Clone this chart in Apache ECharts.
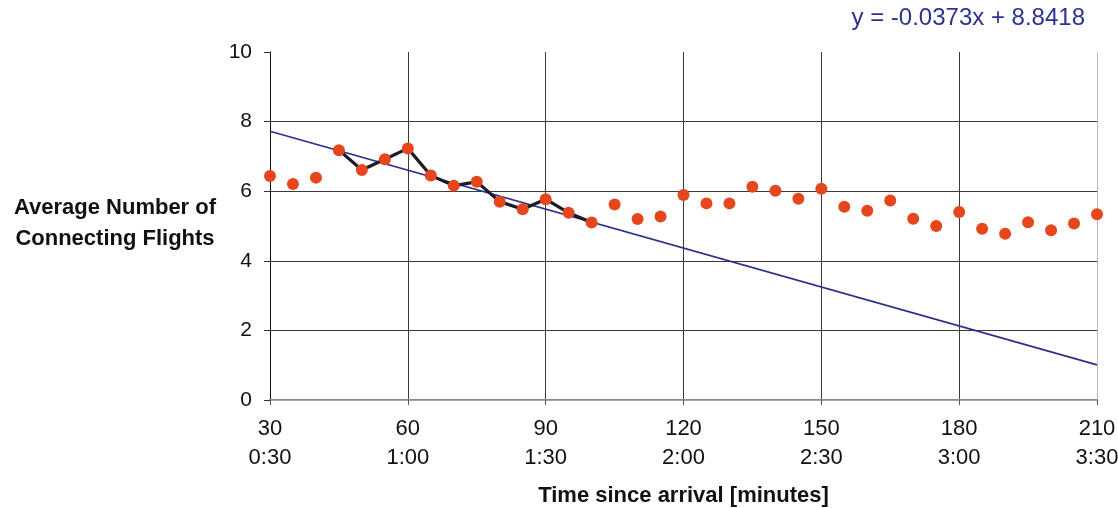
<!DOCTYPE html>
<html>
<head>
<meta charset="utf-8">
<script src="https://cdn.jsdelivr.net/npm/echarts@6/dist/echarts.min.js"></script>
<style>html,body{margin:0;padding:0;background:#fff;}#c{width:1118px;height:508px;}</style>
</head>
<body>
<div id="c"></div>
<script>
// Data
const minutes = [30,35,40,45,50,55,60,65,70,75,80,85,90,95,100,105,110,115,120,125,130,135,140,145,150,155,160,165,170,175,180,185,190,195,200,205,210];
const avgFlights = [6.44,6.21,6.39,7.18,6.61,6.92,7.23,6.45,6.16,6.27,5.70,5.48,5.77,5.38,5.10,5.62,5.20,5.27,5.89,5.65,5.65,6.13,6.01,5.78,6.07,5.55,5.44,5.73,5.21,5.00,5.40,4.92,4.78,5.11,4.88,5.07,5.34];
const highlightStart = 45, highlightEnd = 100;
const trendSlope = -0.0373, trendIntercept = 8.8418;
const xTickValues = [30,60,90,120,150,180,210];
const xTickLabels = ['0:30','1:00','1:30','2:00','2:30','3:00','3:30'];
const yTicks = [0,2,4,6,8,10];

const points = minutes.map((m,i)=>[m, avgFlights[i]]);
const highlighted = points.filter(p=>p[0]>=highlightStart && p[0]<=highlightEnd);
const trend = [minutes[0], minutes[minutes.length-1]].map(x=>[x, trendSlope*x+trendIntercept]);

const chart = echarts.init(document.getElementById('c'), null, {renderer:'canvas'});
const font = '"Liberation Sans", Arial, sans-serif';
chart.setOption({
  animation:false,
  backgroundColor:'#fff',
  grid:{left:270, right:21, top:52, bottom:108, containLabel:false, outerBoundsMode:'none'},
  xAxis:[{
    type:'value', min:30, max:210, interval:30,
    axisLine:{show:true, onZero:false, lineStyle:{color:'#8a8a8a', width:2}},
    axisTick:{show:true, length:5, lineStyle:{color:'#555'}},
    axisLabel:{color:'#111', fontSize:22, fontFamily:font, lineHeight:29, margin:14,
      formatter:v=>{const i=xTickValues.indexOf(v); return v+'\n'+(i>=0?xTickLabels[i]:'');}},
    splitLine:{show:true, showMinLine:false, showMaxLine:false, lineStyle:{color:'#3a3a3a', width:1}},
    name:'Time since arrival [minutes]', nameLocation:'middle', nameGap:85,
    nameTextStyle:{fontSize:22, fontWeight:'bold', color:'#111', fontFamily:font}
  },{
    type:'value', position:'top', min:30, max:210, interval:30,
    axisLine:{show:true, lineStyle:{color:'#aaa', width:1, type:'dotted'}},
    axisTick:{show:false}, axisLabel:{show:false}, splitLine:{show:false}
  }],
  yAxis:[{
    type:'value', min:0, max:10, interval:2,
    axisLine:{show:true, onZero:false, lineStyle:{color:'#111', width:1}},
    axisTick:{show:true, length:6, lineStyle:{color:'#333'}},
    axisLabel:{color:'#111', fontSize:21, fontFamily:font, margin:18},
    splitLine:{show:true, showMinLine:false, showMaxLine:false, lineStyle:{color:'#3a3a3a', width:1}}
  },{
    type:'value', position:'right', min:0, max:10, interval:2,
    axisLine:{show:true, lineStyle:{color:'#aaa', width:1, type:'dotted'}},
    axisTick:{show:false}, axisLabel:{show:false}, splitLine:{show:false}
  }],
  graphic:[
    {type:'text', x:115, y:192, style:{text:'Average Number of\nConnecting Flights', fill:'#111', font:'bold 22px '+font, align:'center', verticalAlign:'top', lineHeight:31}},
    {type:'text', x:1085, y:6, style:{text:'y = -0.0373x + 8.8418', fill:'#2e3192', font:'24px '+font, align:'right', verticalAlign:'top'}}
  ],
  series:[
    {type:'line', data:trend, symbol:'none', lineStyle:{color:'#2b2f8c', width:1.6}, z:2},
    {type:'line', data:highlighted, symbol:'none', lineStyle:{color:'#1c1c28', width:3.2}, z:3},
    {type:'scatter', data:points, symbolSize:12, itemStyle:{color:'#e6461c', opacity:1}, z:4}
  ]
});
</script>
</body>
</html>
